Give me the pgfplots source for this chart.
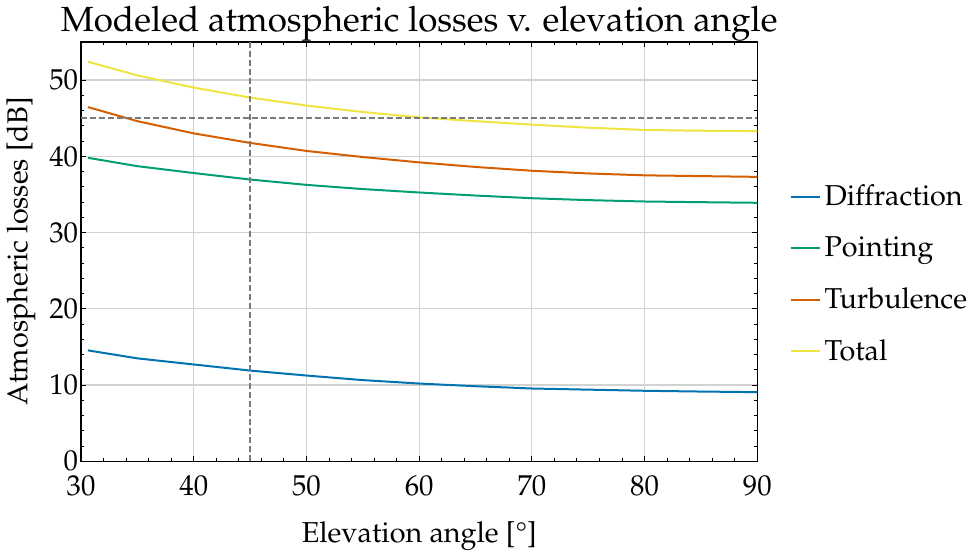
\documentclass[border=0pt]{standalone}
\usepackage[T1]{fontenc}
\usepackage{mathpazo}
\usepackage{pgfplots}
\pgfplotsset{compat=1.18}
\definecolor{cblue}{HTML}{0072B2}
\definecolor{cgreen}{HTML}{009E73}
\definecolor{corange}{HTML}{D55E00}
\definecolor{cyellow}{HTML}{F0E442}
\definecolor{dashgray}{HTML}{7A7A7A}
\begin{document}
\begin{tikzpicture}
\begin{axis}[
  scale only axis, width=338.5pt, height=210pt,
  xmin=30, xmax=90, ymin=0, ymax=55,
  xtick={30,40,...,90}, ytick={0,10,...,50},
  minor x tick num=4, minor y tick num=4,
  tick align=inside, tick pos=both,
  major tick length=2.6pt, minor tick length=1.5pt,
  grid=major, major grid style={gray!35, line width=0.6pt},
  axis line style={line width=0.7pt},
  every tick/.style={black, line width=0.5pt},
  tick label style={font=\fontsize{14.4}{16}\selectfont},
  xticklabel style={yshift=-3.5pt},
  yticklabel style={xshift=2pt},
  title={Modeled atmospheric losses v. elevation angle},
  title style={font=\fontsize{17.5}{20}\selectfont, yshift=-9.5pt},
  xlabel={Elevation angle [\textdegree]},
  ylabel={Atmospheric losses [dB]},
  label style={font=\fontsize{14.4}{16}\selectfont},
  xlabel style={at={(axis description cs:0.5,0)}, anchor=base, yshift=-40.5pt},
  legend style={draw=none, fill=none, at={(1,0.446)}, anchor=west, xshift=13pt,
    font=\fontsize{14.4}{16}\selectfont, row sep=10pt},
  legend cell align=left,
  legend image code/.code={\draw[#1] (0pt,0pt) -- (9.5pt,0pt); \path (0pt,0pt) -- (14.5pt,0pt);},
]
\addplot[cblue, line width=1pt] coordinates {
(30.6,14.55) (35,13.5) (40,12.7) (45,11.9) (50,11.25) (55,10.65) (60,10.2)
(65,9.85) (70,9.55) (75,9.4) (80,9.25) (85,9.15) (90,9.07)};
\addlegendentry{Diffraction}
\addplot[cgreen, line width=1pt] coordinates {
(30.6,39.8) (35,38.7) (40,37.8) (45,36.95) (50,36.25) (55,35.7) (60,35.25)
(65,34.85) (70,34.5) (75,34.25) (80,34.07) (85,33.98) (90,33.9)};
\addlegendentry{Pointing}
\addplot[corange, line width=1pt] coordinates {
(30.6,46.45) (35,44.6) (40,43.0) (45,41.75) (50,40.7) (55,39.9) (60,39.2)
(65,38.6) (70,38.1) (75,37.75) (80,37.5) (85,37.4) (90,37.3)};
\addlegendentry{Turbulence}
\addplot[cyellow, line width=1pt] coordinates {
(30.6,52.4) (35,50.6) (40,49.0) (45,47.7) (50,46.65) (55,45.8) (60,45.1)
(65,44.6) (70,44.15) (75,43.75) (80,43.45) (85,43.35) (90,43.3)};
\addlegendentry{Total}
\addplot[dashgray, line width=0.9pt, dash pattern=on 3pt off 1.5pt, forget plot] coordinates {(45,0) (45,55)};
\addplot[dashgray, line width=0.9pt, dash pattern=on 3pt off 1.5pt, forget plot] coordinates {(30,45) (90,45)};
\end{axis}
\end{tikzpicture}
\end{document}
